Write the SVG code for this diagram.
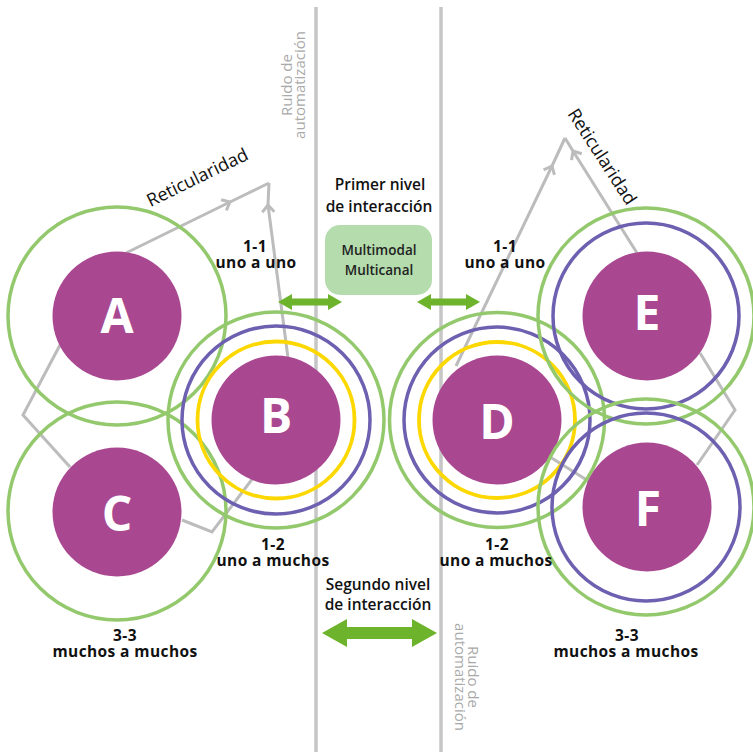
<svg xmlns="http://www.w3.org/2000/svg" width="753" height="753" viewBox="0 0 753 753">
<style>
.vline{stroke:#c6c6c6;stroke-width:3.5;fill:none}
.gl{stroke:#bcbcbc;stroke-width:3;fill:none;stroke-linejoin:miter}
.rg{fill:none;stroke:#93c96c;stroke-width:3.5}
.rp{fill:none;stroke:#6e60b0;stroke-width:3.5}
.ry{fill:none;stroke:#fcd800;stroke-width:3.8}
.disk{fill:#a94891}
.let{font-family:"Open Sans","Liberation Sans",sans-serif;font-weight:700;font-size:48px;fill:#fff;text-anchor:middle}
.lab{font-family:"Open Sans","Liberation Sans",sans-serif;font-weight:700;font-size:15.5px;fill:#111;text-anchor:middle;letter-spacing:0.4px}
.hd{font-family:"Open Sans","Liberation Sans",sans-serif;font-weight:600;font-size:15.5px;fill:#111;text-anchor:middle}
.bx{font-family:"Open Sans","Liberation Sans",sans-serif;font-weight:600;font-size:13.5px;fill:#222;text-anchor:middle}
.ret{font-family:"Open Sans","Liberation Sans",sans-serif;font-weight:400;font-size:18px;fill:#111;text-anchor:middle}
.noise{font-family:"Open Sans","Liberation Sans",sans-serif;font-weight:400;font-size:15px;fill:#a9a9a9;text-anchor:middle}
.ga{fill:#6db42c}
</style>
<defs>
<marker id="chev" markerUnits="userSpaceOnUse" markerWidth="20" markerHeight="20" viewBox="-10 -10 20 20" refX="0" refY="0" orient="auto">
<path d="M-7,-6 L0,0 L-7,6" fill="none" stroke="#bcbcbc" stroke-width="3"/>
</marker>
</defs>
<rect width="753" height="753" fill="#fff"/>
<g id="dividers">
<line class="vline" x1="316" y1="7" x2="316" y2="752"/>
<line class="vline" x1="441" y1="7" x2="441" y2="752"/>
</g>
<g id="connectors">
<polyline class="gl" points="126,253 230,202 269,183" marker-mid="url(#chev)"/>
<polyline class="gl" points="288,358 268,205 269,183" marker-mid="url(#chev)"/>
<polyline class="gl" points="60,345 23,415 70,467"/>
<polyline class="gl" points="182,520 212,532 253,478"/>
<polyline class="gl" points="456,366 552,166 565,138" marker-mid="url(#chev)"/>
<polyline class="gl" points="637,253 573,151 565,138" marker-mid="url(#chev)"/>
<polyline class="gl" points="700,353 735,410 697,465"/>
<line class="gl" x1="550" y1="457" x2="590" y2="482"/>
<polygon class="ga" points="278,302 292,294 292,298.5 328,298.5 328,294 342,302 328,310 328,305.5 292,305.5 292,310"/>
<polygon class="ga" points="417,302 431,294 431,298.5 466,298.5 466,294 480,302 466,310 466,305.5 431,305.5 431,310"/>
<polygon class="ga" points="322,633 347,619 347,627 412,627 412,619 437,633 412,647 412,639 347,639 347,647"/>
</g>
<g id="node-A">
<circle class="rg" cx="117" cy="316" r="109"/>
<circle class="disk" cx="117" cy="316" r="64.5"/>
<text class="let" x="117" y="333">A</text>
</g>
<g id="node-C">
<circle class="rg" cx="117" cy="511" r="109"/>
<circle class="disk" cx="117" cy="512" r="64.5"/>
<text class="let" x="117" y="531">C</text>
</g>
<g id="node-B">
<circle class="rg" cx="276" cy="420" r="108"/>
<circle class="rp" cx="276" cy="420" r="94"/>
<circle class="ry" cx="276" cy="420" r="78.5"/>
<circle class="disk" cx="276" cy="420" r="64.5"/>
<text class="let" x="276" y="433">B</text>
</g>
<g id="node-D">
<circle class="rg" cx="497" cy="420" r="107.5"/>
<circle class="rp" cx="497" cy="420" r="93"/>
<circle class="ry" cx="497" cy="420" r="78"/>
<circle class="disk" cx="497" cy="420" r="64.5"/>
<text class="let" x="497" y="439">D</text>
</g>
<g id="node-E">
<circle class="rg" cx="646" cy="316" r="108"/>
<circle class="rp" cx="646" cy="316" r="93"/>
<circle class="disk" cx="647" cy="316" r="64.5"/>
<text class="let" x="647" y="330">E</text>
</g>
<g id="node-F">
<circle class="rg" cx="646" cy="507" r="108"/>
<circle class="rp" cx="646" cy="507" r="94"/>
<circle class="disk" cx="647" cy="507" r="64.5"/>
<text class="let" x="648" y="526">F</text>
</g>
<g id="box-multimodal">
<rect x="325" y="225" width="107" height="70" rx="15" fill="#b4dcad"/>
<text class="bx"><tspan x="379" y="255">Multimodal</tspan><tspan x="379" y="275">Multicanal</tspan></text>
</g>
<g id="labels">
<text class="ret" transform="translate(200,183) rotate(-26)">Reticularidad</text>
<text class="ret" transform="translate(597,160) rotate(57)">Reticularidad</text>
<text class="hd"><tspan x="380" y="190">Primer nivel</tspan><tspan x="379" y="212">de interacción</tspan></text>
<text class="hd"><tspan x="378" y="590">Segundo nivel</tspan><tspan x="378" y="610">de interacción</tspan></text>
<text class="lab"><tspan x="255" y="252">1-1</tspan><tspan x="256" y="268">uno a uno</tspan></text>
<text class="lab"><tspan x="505" y="252">1-1</tspan><tspan x="505" y="268">uno a uno</tspan></text>
<text class="lab"><tspan x="273" y="550">1-2</tspan><tspan x="273" y="566">uno a muchos</tspan></text>
<text class="lab"><tspan x="497" y="550">1-2</tspan><tspan x="496" y="566">uno a muchos</tspan></text>
<text class="lab"><tspan x="125" y="641">3-3</tspan><tspan x="125" y="657">muchos a muchos</tspan></text>
<text class="lab"><tspan x="627" y="641">3-3</tspan><tspan x="626" y="657">muchos a muchos</tspan></text>
<text class="noise" transform="translate(292,85) rotate(-90)"><tspan x="0" y="0">Ruido de</tspan><tspan x="0" y="12.5">automatización</tspan></text>
<text class="noise" transform="translate(468,677) rotate(90)"><tspan x="0" y="0">Ruido de</tspan><tspan x="0" y="13">automatización</tspan></text>
</g>
</svg>
